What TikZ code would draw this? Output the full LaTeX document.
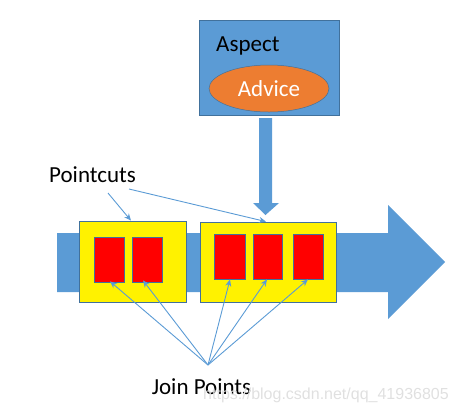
\documentclass[tikz,border=0pt]{standalone}
\usepackage{fontspec}
\setmainfont{Carlito}
\newfontfamily\wmfont{Liberation Sans}
\usetikzlibrary{arrows.meta,shapes.geometric}
\definecolor{ablue}{HTML}{5B9BD5}
\definecolor{dblue}{HTML}{41719C}
\definecolor{aorange}{HTML}{ED7D31}
\tikzset{
  lbl/.style={font=\fontsize{23}{27}\selectfont, inner sep=0pt},
  ybox/.style={draw=dblue, line width=0.8pt, fill=yellow, inner sep=0pt},
  rbox/.style={draw=dblue, line width=0.8pt, fill=red, inner sep=0pt, minimum height=45pt},
  conn/.style={draw=ablue, line width=0.9pt, -{Stealth[length=7pt,width=6pt]}},
}
\begin{document}
\begin{tikzpicture}[x=1pt,y=-1pt]
\useasboundingbox (0,0) rectangle (457,413);
% big horizontal arrow
\fill[ablue] (57,233) -- (388,233) -- (388,205) -- (445,262) -- (388,319) -- (388,292) -- (57,292) -- cycle;
% aspect box
\node[draw=dblue, line width=0.5pt, fill=ablue, minimum width=140pt, minimum height=95pt, inner sep=0pt] (asp) at (269,67.5) {};
\node[lbl, anchor=west] (asptxt) at (216,46) {Aspect};
\node[ellipse, draw=dblue, line width=0.5pt, fill=aorange, minimum width=120pt, minimum height=47pt, inner sep=0pt, font=\fontsize{23}{27}\selectfont, text=white] (adv) at (269,88.5) {Advice};
% vertical arrow
\fill[ablue] (259,118) -- (272,118) -- (272,203) -- (279,203) -- (265.5,215) -- (253,203) -- (259,203) -- cycle;
% yellow boxes
\node[ybox, minimum width=107pt, minimum height=81pt] (y1) at (132.5,261.5) {};
\node[ybox, minimum width=136pt, minimum height=80pt] (y2) at (268,262) {};
% red boxes
\node[rbox, minimum width=30pt] (r1) at (109,259.5) {};
\node[rbox, minimum width=30pt] (r2) at (147,259.5) {};
\node[rbox, minimum width=31pt] (r3) at (229.5,256.5) {};
\node[rbox, minimum width=29pt] (r4) at (267.5,256.5) {};
\node[rbox, minimum width=30pt] (r5) at (308,256.5) {};
% labels
\node[lbl] (pc) at (92.5,175) {Pointcuts};
\node[lbl] (jp) at (201.5,387) {Join Points};
\node[font=\wmfont\fontsize{16}{19}\selectfont, text=black!12, inner sep=0pt] (wm) at (326,395) {https://blog.csdn.net/qq\_41936805};
% connectors
\coordinate (pcA) at (108,193);
\coordinate (pcB) at (129,189);
\coordinate (jpc) at (208,365);
\draw[conn] (pcA) -- ([xshift=-1.5pt]y1.north);
\draw[conn] (pcB) -- ([xshift=-2pt]y2.north);
\draw[conn] (jpc) -- ([xshift=1pt,yshift=1pt]r1.south);
\draw[conn] (jpc) -- ([xshift=-4pt,yshift=2pt]r2.south);
\draw[conn] (jpc) -- ([xshift=0.5pt]r3.south);
\draw[conn] (jpc) -- ([xshift=-0.5pt]r4.south);
\draw[conn] (jpc) -- ([xshift=0pt]r5.south);
\end{tikzpicture}
\end{document}
